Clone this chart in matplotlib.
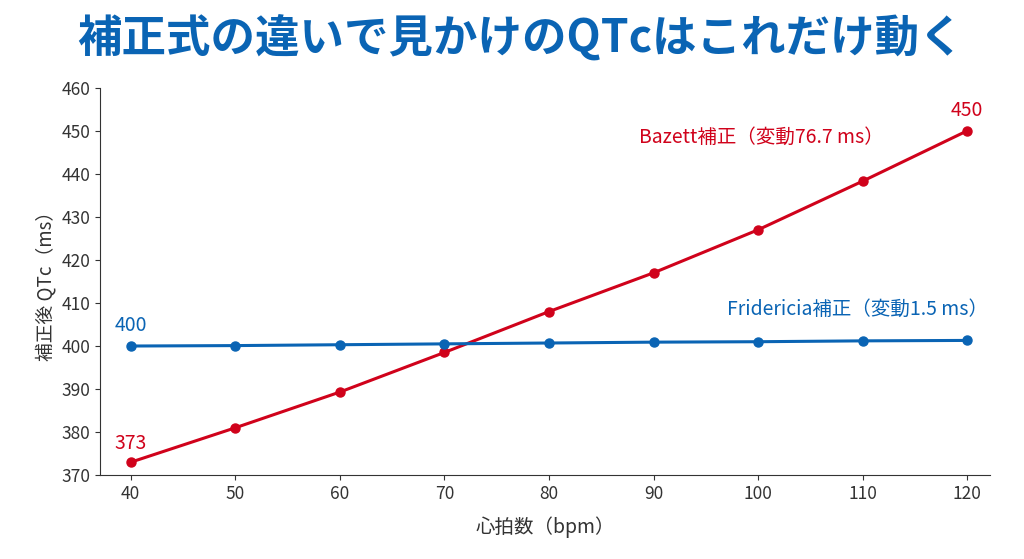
import matplotlib
matplotlib.use("Agg")
import matplotlib.pyplot as plt

plt.rcParams['font.family'] = ['Noto Sans CJK JP', 'DejaVu Sans']

hr = [40, 50, 60, 70, 80, 90, 100, 110, 120]
bazett = [373, 381, 389.3, 398.5, 408, 417, 427, 438.3, 450]
fridericia = [400, 400.1, 400.3, 400.5, 400.7, 400.9, 401.0, 401.2, 401.3]
yticks = [370, 380, 390, 400, 410, 420, 430, 440, 450, 460]

red = '#d0021b'
blue = '#0a64b4'

fig = plt.figure(figsize=(10.24, 5.59), dpi=100)
ax = fig.add_axes([0.098, 0.15, 0.869, 0.693])
ax.plot(hr, bazett, color=red, lw=2.2, marker='o', ms=6.5, zorder=3)
ax.plot(hr, fridericia, color=blue, lw=2.2, marker='o', ms=6.5, zorder=3)
ax.set_xlim(37.1, 122.2)
ax.set_ylim(370, 460)
ax.set_xticks(hr)
ax.set_yticks(yticks)
for s in ['top', 'right']:
    ax.spines[s].set_visible(False)
for s in ['left', 'bottom']:
    ax.spines[s].set_color('#333333')
ax.tick_params(labelsize=12.5, colors='#333333')
ax.set_xlabel('心拍数（bpm）', fontsize=14, color='#333333', labelpad=10)
ax.set_ylabel('補正後 QTc（ms）', fontsize=13.5, color='#333333')

ax.text(40, 376, '373', color=red, fontsize=14, ha='center')
ax.text(120, 453.5, '450', color=red, fontsize=14, ha='center')
ax.text(40, 403.5, '400', color=blue, fontsize=14, ha='center')
ax.text(112, 448.5, 'Bazett補正（変動76.7 ms）', color=red, fontsize=14, ha='right', va='center')
ax.text(122, 408.5, 'Fridericia補正（変動1.5 ms）', color=blue, fontsize=14, ha='right', va='center')

fig.text(0.508, 0.93, '補正式の違いで見かけのQTcはこれだけ動く', color=blue, fontsize=32,
         fontweight='bold', ha='center', va='center')
fig.savefig('out.png', dpi=100)
